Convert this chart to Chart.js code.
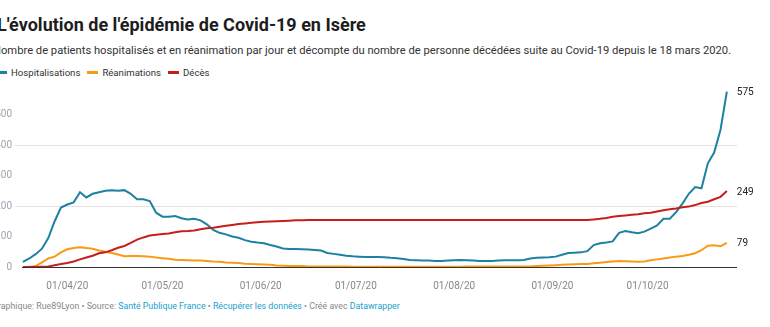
<!DOCTYPE html>
<html>
<head>
<meta charset="utf-8">
<script src="https://cdn.jsdelivr.net/npm/chart.js@4"></script>
<style>
  body { margin: 0; width: 770px; height: 327px; overflow: hidden; background: #fff; font-family: Roboto, sans-serif; position: relative; }
  .t { position: absolute; white-space: nowrap; line-height: 1; }
  #title { left: -3px; top: 16px; font-size: 18px; font-weight: 700; color: #1d1d1d; }
  #sub { left: -7px; top: 45px; font-size: 11.2px; color: #333; }
  #legend { left: -4px; top: 67.8px; font-size: 9.6px; color: #333; }
  #legend span.it { margin-right: 7px; }
  #legend i { display: inline-block; width: 11px; height: 3px; vertical-align: 2px; margin-right: 4px; }
  #foot { left: -8px; top: 302.3px; font-size: 8.8px; color: #888; }
  #foot a { color: #18a1cd; text-decoration: none; }
  #wrap { position: absolute; left: -10px; top: 80px; width: 780px; height: 212px; }
</style>
</head>
<body>
<div class="t" id="title">L'évolution de l'épidémie de Covid-19 en Isère</div>
<div class="t" id="sub">Nombre de patients hospitalisés et en réanimation par jour et décompte du nombre de personne décédées suite au Covid-19 depuis le 18 mars 2020.</div>
<div class="t" id="legend"></div>
<div id="wrap"><canvas id="c"></canvas></div>
<div class="t" id="foot">Graphique: Rue89Lyon • Source: <a>Santé Publique France</a> • <a>Récupérer les données</a> • Créé avec <a>Datawrapper</a></div>
<script>
    // un point tous les 2 jours depuis le 18/03/20 (jour 0)
    const stepDays = 2;

    const hospitalisations = [17, 28, 42, 60, 95, 150, 195, 205, 212, 245, 228, 240, 245, 250, 252, 250, 252, 240, 222, 222,
        216, 178, 165, 165, 167, 160, 156, 158, 153, 140, 122, 112, 107, 100, 96, 88, 83, 80, 78, 72,
        67, 61, 59, 59, 58, 57, 56, 54, 46, 43, 40, 37, 35, 34, 33, 33, 33, 32, 30, 29,
        26, 23, 22, 21, 21, 20, 20, 21, 22, 23, 22, 21, 20, 20, 20, 21, 22, 22, 22, 23,
        28, 30, 31, 32, 34, 40, 46, 47, 48, 52, 72, 78, 80, 84, 112, 118, 114, 111, 116, 126,
        136, 158, 158, 180, 208, 240, 262, 258, 340, 375, 450, 575];

    const reanimations = [0, 0, 3, 15, 28, 34, 48, 58, 62, 65, 62, 60, 54, 50, 46, 41, 35, 36, 36, 35,
        34, 31, 29, 27, 24, 23, 22, 21, 21, 20, 18, 17, 15, 14, 13, 11, 10, 9, 8, 7,
        5, 4, 3, 3, 3, 2, 2, 2, 2, 2, 2, 2, 1, 1, 1, 1, 1, 1, 1, 1,
        1, 1, 1, 1, 1, 1, 1, 1, 1, 1, 2, 2, 2, 2, 2, 2, 2, 2, 2, 2,
        2, 3, 4, 5, 6, 7, 8, 9, 10, 10, 12, 14, 16, 18, 20, 19, 18, 17, 18, 22,
        25, 28, 31, 34, 36, 40, 45, 55, 70, 71, 68, 79];

    const deces = [0, 0, 0, 1, 2, 6, 10, 13, 18, 25, 31, 37, 45, 48, 55, 63, 69, 79, 90, 97,
        103, 106, 108, 110, 114, 117, 118, 120, 124, 127, 129, 132, 135, 138, 141, 143, 145, 147, 148, 149,
        150, 151, 152, 153, 153, 154, 154, 154, 154, 154, 154, 154, 154, 154, 154, 154, 154, 154, 154, 154,
        154, 154, 154, 154, 154, 154, 154, 154, 154, 154, 154, 154, 154, 154, 154, 154, 154, 154, 154, 154,
        154, 154, 154, 154, 154, 154, 154, 154, 154, 154, 156, 158, 161, 165, 167, 169, 171, 173, 176, 178,
        182, 186, 189, 192, 196, 198, 203, 210, 214, 222, 230, 249];

    const seriesNames = ['Hospitalisations', 'Réanimations', 'Décès'];
    const seriesColors = ['#1d81a2', '#fa9a14', '#c71e1d'];

    // étiquettes de l'axe X (jour depuis le 18/03)
    const tickDays = [14, 44, 75, 105, 136, 167, 197];
    const tickLabels = ['01/04/20', '01/05/20', '01/06/20', '01/07/20', '01/08/20', '01/09/20', '01/10/20'];
    const yTicks = [0, 100, 200, 300, 400, 500];
    const yGrid = [200, 400];

    // légende
    document.getElementById('legend').innerHTML = seriesNames.map((n, i) =>
        `<span class="it"><i style="background:${seriesColors[i]}"></i>${n}</span>`).join('');

    const toPoints = arr => arr.map((v, i) => ({ x: i * stepDays, y: v }));

    // ligne de base + valeurs finales
    const extras = {
        id: 'extras',
        afterDatasetsDraw(chart) {
            const ctx = chart.ctx, xs = chart.scales.x, ys = chart.scales.y;
            ctx.save();
            ctx.strokeStyle = '#333';
            ctx.lineWidth = 1;
            ctx.beginPath();
            ctx.moveTo(xs.getPixelForValue(0) - 1, Math.round(ys.getPixelForValue(0)) + 0.5);
            ctx.lineTo(chart.chartArea.right, Math.round(ys.getPixelForValue(0)) + 0.5);
            ctx.stroke();
            ctx.font = '10px Roboto';
            ctx.fillStyle = '#222';
            ctx.textBaseline = 'middle';
            chart.data.datasets.forEach((ds, i) => {
                const last = ds.data[ds.data.length - 1];
                ctx.fillText(String(last.y), xs.getPixelForValue(last.x) + 10, ys.getPixelForValue(last.y) + 1);
            });
            ctx.restore();
        }
    };

    new Chart(document.getElementById('c'), {
        type: 'line',
        data: {
            datasets: [hospitalisations, reanimations, deces].map((arr, i) => ({
                label: seriesNames[i],
                data: toPoints(arr),
                borderColor: seriesColors[i],
                borderWidth: 2,
                pointRadius: 0,
                tension: 0,
                clip: false
            })).reverse()
        },
        options: {
            responsive: true,
            maintainAspectRatio: false,
            animation: false,
            layout: { padding: { top: 4, right: 33, bottom: 0, left: 0 } },
            plugins: { legend: { display: false }, tooltip: { enabled: false } },
            scales: {
                x: {
                    type: 'linear',
                    min: -2.5,
                    max: 225.2,
                    afterBuildTicks: s => { s.ticks = tickDays.map(v => ({ value: v })); },
                    afterFit: s => { s.height = 25; s.paddingLeft = 0; s.paddingRight = 0; },
                    grid: { display: false },
                    border: { display: false },
                    ticks: {
                        autoSkip: false,
                        maxRotation: 0,
                        padding: 5,
                        color: '#888',
                        font: { family: 'Roboto', size: 10 },
                        callback: v => tickLabels[tickDays.indexOf(v)]
                    }
                },
                y: {
                    min: 0,
                    max: 600,
                    afterBuildTicks: s => { s.ticks = yTicks.map(v => ({ value: v })); },
                    afterFit: s => { s.width = 25; s.paddingTop = 0; s.paddingBottom = 0; },
                    grid: {
                        drawTicks: false,
                        color: c => yGrid.includes(c.tick.value) ? '#e2e2e2' : 'rgba(0,0,0,0)'
                    },
                    border: { display: false },
                    ticks: {
                        padding: 3,
                        color: '#a0a4b0',
                        font: { family: 'Roboto', size: 10 }
                    }
                }
            }
        },
        plugins: [extras]
    });
</script>
</body>
</html>
